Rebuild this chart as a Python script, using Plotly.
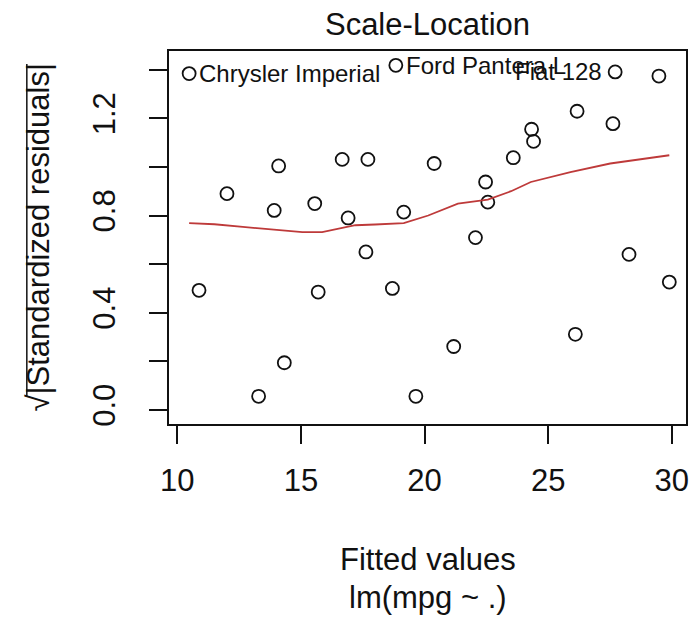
import plotly.graph_objects as go

# ---- data ----
fitted = [10.48, 18.84, 27.71, 29.48, 26.17, 27.62, 24.33, 24.41, 23.59, 20.39,
          22.47, 22.56, 19.16, 22.06, 12.01, 14.10, 13.92, 15.56, 16.67, 17.71,
          16.91, 17.63, 10.88, 15.70, 18.70, 14.33, 13.29, 19.65, 28.27, 29.90,
          26.10, 21.18]
sqrt_abs_std_resid = [1.384, 1.418, 1.391, 1.374, 1.229, 1.178, 1.155, 1.105, 1.038, 1.014,
                      0.938, 0.855, 0.814, 0.709, 0.890, 1.004, 0.821, 0.849, 1.031, 1.031,
                      0.790, 0.650, 0.492, 0.485, 0.500, 0.194, 0.056, 0.056, 0.640, 0.526,
                      0.311, 0.261]

smooth_x = [10.48, 11.5, 12.65, 14.0, 15.06, 15.86, 16.5, 17.2, 18.0, 19.16,
            20.15, 21.35, 22.56, 23.5, 24.30, 25.9, 27.51, 29.90]
smooth_y = [0.769, 0.764, 0.753, 0.742, 0.732, 0.732, 0.745, 0.760, 0.763, 0.769,
            0.800, 0.849, 0.865, 0.900, 0.938, 0.979, 1.014, 1.048]

label_names = ["Chrysler Imperial", "Ford Pantera L", "Fiat 128"]
label_index = [0, 1, 2]
label_side = ["right", "right", "left"]

x_ticks = [10, 15, 20, 25, 30]
y_ticks = [0.0, 0.2, 0.4, 0.6, 0.8, 1.0, 1.2, 1.4]
y_tick_text = ["0.0", "", "0.4", "", "0.8", "", "1.2", ""]

title_text = "Scale-Location"
x_title = "Fitted values"
x_subtitle = "lm(mpg ~ .)"
y_title = "\u221a|Standardized residuals|"

FONT = "Liberation Sans, Arial, sans-serif"
base = 31
INK = "#111111"

fig = go.Figure()
fig.add_trace(go.Scatter(
    x=fitted, y=sqrt_abs_std_resid, mode="markers",
    marker=dict(symbol="circle-open", size=13, color=INK,
                line=dict(width=1.8, color=INK)),
    showlegend=False, hoverinfo="x+y"))
fig.add_trace(go.Scatter(
    x=smooth_x, y=smooth_y, mode="lines",
    line=dict(color="#BE3A3A", width=1.8, shape="linear"),
    showlegend=False, hoverinfo="skip"))

annotations = []
for name, idx, side in zip(label_names, label_index, label_side):
    annotations.append(dict(
        x=fitted[idx], y=sqrt_abs_std_resid[idx], xref="x", yref="y",
        text=name, showarrow=False,
        xanchor="left" if side == "right" else "right", yanchor="middle",
        xshift=8 if side == "right" else -11,
        font=dict(family=FONT, size=24, color=INK)))

annotations.append(dict(x=0.5, y=0, xref="paper", yref="paper", text=x_title,
                        showarrow=False, xanchor="center", yanchor="middle",
                        yshift=-135, font=dict(family=FONT, size=base, color=INK)))
annotations.append(dict(x=0.5, y=0, xref="paper", yref="paper", text=x_subtitle,
                        showarrow=False, xanchor="center", yanchor="middle",
                        yshift=-173, font=dict(family=FONT, size=base, color=INK)))
annotations.append(dict(x=0, y=0.5, xref="paper", yref="paper", text=y_title,
                        showarrow=False, xanchor="center", yanchor="middle",
                        textangle=-90, xshift=-131,
                        font=dict(family=FONT, size=base, color=INK)))

# overline of the square-root sign in the y title (decoration, paper coords)
plot_w = 695 - 169 - 6
plot_h = 622 - 51 - 198
bar_x = (26 - 169) / plot_w
bar_y0 = (424 - 396) / plot_h
bar_y1 = (424 - 64) / plot_h

fig.update_layout(
    width=695, height=622,
    margin=dict(l=169, r=6, t=51, b=198, pad=0),
    paper_bgcolor="white", plot_bgcolor="white",
    title=dict(text=title_text, x=0.5, xref="paper", xanchor="center",
               y=1 - 24 / 622, yref="container", yanchor="middle",
               font=dict(family=FONT, size=base, color=INK)),
    annotations=annotations,
    shapes=[dict(type="line", xref="paper", yref="paper",
                 x0=bar_x, x1=bar_x, y0=bar_y0, y1=bar_y1,
                 line=dict(color=INK, width=1.5))],
    font=dict(family=FONT, color=INK),
)
fig.update_xaxes(range=[9.666, 30.575], tickmode="array", tickvals=x_ticks,
                 ticks="outside", ticklen=18, tickwidth=1.5, tickcolor=INK,
                 showline=True, linecolor=INK, linewidth=1.5, mirror=True,
                 showgrid=False, zeroline=False, ticklabelstandoff=10,
                 tickfont=dict(family=FONT, size=base, color=INK))
fig.update_yaxes(range=[-0.058, 1.477], tickmode="array", tickvals=y_ticks,
                 ticktext=y_tick_text, tickangle=-90,
                 ticks="outside", ticklen=18, tickwidth=1.5, tickcolor=INK,
                 showline=True, linecolor=INK, linewidth=1.5, mirror=True,
                 showgrid=False, zeroline=False, ticklabelstandoff=22,
                 tickfont=dict(family=FONT, size=base, color=INK))

fig.write_html("out.html")
